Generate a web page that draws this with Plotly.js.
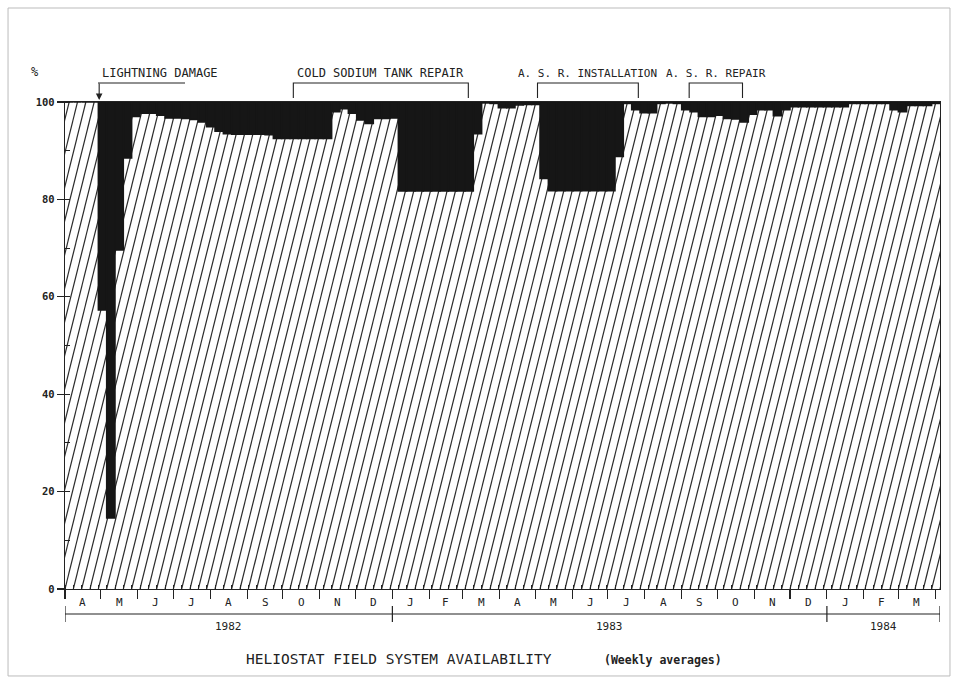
<!DOCTYPE html>
<html>
<head>
<meta charset="utf-8">
<script src="https://cdn.plot.ly/plotly-3.0.1.min.js"></script>
<style>html,body{margin:0;padding:0;background:#fff;}#chart{width:958px;height:682px;}</style>
</head>
<body>
<div id="chart"></div>
<script>
// Weekly availability (%) starting week of 1 April 1982
const availability = [
  100, 100, 100, 100, 57.3, 14.6, 69.6, 88.5, 97.0, 97.7,
  97.7, 97.3, 96.7, 96.7, 96.6, 96.4, 95.9, 94.9, 94.0, 93.5,
  93.4, 93.4, 93.4, 93.4, 93.3, 92.5, 92.5, 92.5, 92.5, 92.5,
  92.5, 92.5, 98.0, 98.6, 97.7, 96.3, 95.6, 96.6, 96.6, 96.7,
  81.7, 81.7, 81.7, 81.7, 81.7, 81.7, 81.7, 81.7, 81.7, 93.5,
  99.8, 99.7, 98.8, 98.8, 99.4, 99.5, 99.5, 84.3, 81.8, 81.8,
  81.8, 81.8, 81.8, 81.8, 81.8, 81.8, 88.8, 99.7, 98.4, 97.8,
  97.8, 99.7, 99.8, 99.7, 98.4, 98.0, 97.0, 97.0, 97.3, 96.6,
  96.5, 95.9, 97.5, 98.4, 98.4, 97.2, 98.4, 99.0, 99.0, 99.0,
  99.0, 99.0, 99.0, 99.0, 99.7, 99.7, 99.7, 99.7, 99.7, 98.4,
  98.0, 99.3, 99.3, 99.3, 99.7
];
const monthLetters = ['A','M','J','J','A','S','O','N','D','J','F','M',
                      'A','M','J','J','A','S','O','N','D','J','F','M'];
const yearLabels = ['1982', '1983', '1984'];
const yearStartMonthIdx = [0, 9, 21, 24];
const eventLabels = ['COLD SODIUM TANK REPAIR', 'A. S. R. INSTALLATION', 'A. S. R. REPAIR'];
const eventLabelSizes = [12, 11, 11];
const eventSpans = [[27.4, 48.4], [56.7, 68.8], [74.9, 81.3]];
const lightningLabel = 'LIGHTNING DAMAGE';
const lightningWeek = 4.1;

// ---- derived ----
const weeks = availability.map((v, i) => i + 0.5);
const downtime = availability.map(v => +(100 - v).toFixed(2));
const t0 = Date.UTC(1982, 3, 1);
const monthBounds = [];
for (let m = 0; m <= 24; m++) {
  monthBounds.push((Date.UTC(1982, 3 + m, 1) - t0) / 86400000 / 7);
}
const XMAX = 105;
const HATCH_SHIFT = 14.5; // weeks of horizontal run over the full 0-100 height
const font = 'DejaVu Sans Mono, monospace';
const ink = '#222';

const shapes = [];
// hatch texture of the plot area (availability region)
for (let k = -Math.ceil(HATCH_SHIFT) - 1; k <= XMAX + 1; k++) {
  shapes.push({type: 'line', xref: 'x', yref: 'y', x0: k, y0: 0, x1: k + HATCH_SHIFT, y1: 100,
    layer: 'below', line: {color: '#2c2c2c', width: 1.2}});
}
// year bar
const yearLineY = -0.0513;
shapes.push({type: 'line', xref: 'x', yref: 'paper', x0: 0, x1: XMAX, y0: yearLineY, y1: yearLineY,
  line: {color: ink, width: 1.2}});
const yearTickX = yearStartMonthIdx.map(i => i === 24 ? XMAX : monthBounds[i]);
yearTickX.forEach(x => shapes.push({type: 'line', xref: 'x', yref: 'paper', x0: x, x1: x,
  y0: -0.035, y1: -0.068, line: {color: ink, width: 1.2}}));
// event brackets
eventSpans.forEach(s => {
  shapes.push({type: 'path', xref: 'x', yref: 'paper',
    path: `M ${s[0]} 1.008 L ${s[0]} 1.039 L ${s[1]} 1.039 L ${s[1]} 1.008`,
    line: {color: ink, width: 1.1}});
});
// lightning underline
shapes.push({type: 'line', xref: 'x', yref: 'paper', x0: 3.96, x1: 14.4, y0: 1.039, y1: 1.039,
  line: {color: ink, width: 1.1}});
// outer frame
shapes.push({type: 'rect', xref: 'paper', yref: 'paper', x0: -0.0651, x1: 1.0114, y0: -0.1786, y1: 1.193,
  line: {color: '#bbb', width: 1}});

const annotations = [];
monthLetters.forEach((L, i) => {
  annotations.push({x: (monthBounds[i] + monthBounds[i + 1]) / 2, xref: 'x', y: -0.028, yref: 'paper',
    text: L, showarrow: false, font: {family: font, size: 11, color: ink}, xanchor: 'center', yanchor: 'middle'});
});
yearLabels.forEach((Y, i) => {
  annotations.push({x: (yearTickX[i] + yearTickX[i + 1]) / 2, xref: 'x', y: -0.077, yref: 'paper',
    text: Y, showarrow: false, font: {family: font, size: 11, color: ink}, xanchor: 'center', yanchor: 'middle'});
});
eventLabels.forEach((t, i) => {
  annotations.push({x: (eventSpans[i][0] + eventSpans[i][1]) / 2, xref: 'x', y: 1.0595, yref: 'paper',
    text: t, showarrow: false, font: {family: font, size: eventLabelSizes[i], color: ink},
    xanchor: 'center', yanchor: 'middle'});
});
annotations.push({x: lightningWeek + 0.1, xref: 'x', y: 1.0595, yref: 'paper', text: lightningLabel,
  xanchor: 'left', yanchor: 'middle', showarrow: false, font: {family: font, size: 12, color: ink}});
annotations.push({x: lightningWeek, xref: 'x', y: 1.004, yref: 'paper', ax: 0, ay: -18, text: '',
  showarrow: true, arrowhead: 2, arrowsize: 1.2, arrowwidth: 1.1, arrowcolor: ink});
annotations.push({x: -0.0343, xref: 'paper', y: 1.0616, yref: 'paper', text: '%', showarrow: false,
  font: {family: font, size: 12, color: ink}, xanchor: 'center', yanchor: 'middle'});
annotations.push({x: 0.3817, xref: 'paper', y: -0.1437, yref: 'paper', text: 'HELIOSTAT FIELD SYSTEM AVAILABILITY',
  showarrow: false, font: {family: font, size: 14.5, color: ink}, xanchor: 'center', yanchor: 'middle'});
annotations.push({x: 0.6834, xref: 'paper', y: -0.1458, yref: 'paper', text: '<b>(Weekly averages)</b>',
  showarrow: false, font: {family: font, size: 11.5, color: ink}, xanchor: 'center', yanchor: 'middle'});

const traces = [
  {type: 'bar', x: weeks, y: availability, base: 0, width: 1, name: 'Available',
   marker: {color: 'rgba(255,255,255,0)', line: {width: 0}}, hoverinfo: 'x+y'},
  {type: 'bar', x: weeks, y: downtime, base: availability, width: 1, name: 'Unavailable',
   marker: {color: '#161616', line: {color: '#161616', width: 1.5}}, hoverinfo: 'x+y'}
];

const layout = {
  width: 958, height: 682,
  margin: {l: 65, r: 18, t: 102, b: 93},
  paper_bgcolor: '#fff', plot_bgcolor: '#fff',
  showlegend: false, barmode: 'overlay', bargap: 0,
  xaxis: {range: [0, XMAX], tickmode: 'array', tickvals: monthBounds, showticklabels: false,
    ticks: 'outside', ticklen: 9, tickwidth: 1.1, tickcolor: ink,
    minor: {tickmode: 'linear', tick0: 0, dtick: 1, ticks: 'inside', ticklen: 4, tickcolor: ink, tickwidth: 1},
    showline: true, mirror: true, linecolor: ink, linewidth: 1.3, showgrid: false, zeroline: false, fixedrange: true},
  yaxis: {range: [0, 100], tickmode: 'array', tickvals: [0, 20, 40, 60, 80, 100],
    ticks: 'outside', ticklen: 7, tickwidth: 1.1, tickcolor: ink,
    minor: {tickmode: 'linear', tick0: 0, dtick: 10, ticks: 'inside', ticklen: 5, tickcolor: ink, tickwidth: 1},
    tickfont: {family: font, size: 10.5, color: ink, weight: 'bold'},
    showline: true, mirror: true, linecolor: ink, linewidth: 1.3, showgrid: false, zeroline: false, fixedrange: true},
  shapes: shapes,
  annotations: annotations
};

Plotly.newPlot('chart', traces, layout, {staticPlot: true, displayModeBar: false});
</script>
</body>
</html>
